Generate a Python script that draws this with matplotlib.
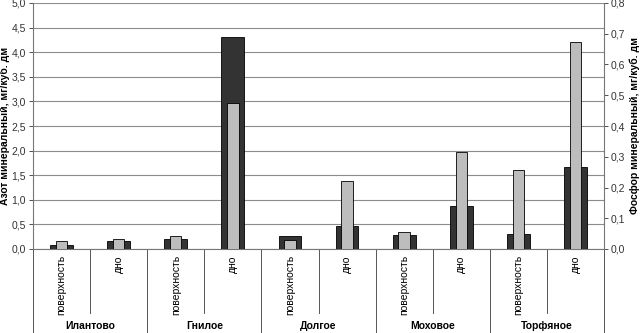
import matplotlib
matplotlib.use("Agg")
import matplotlib.pyplot as plt
import numpy as np

plt.rcParams['font.family'] = ['Liberation Sans', 'DejaVu Sans']

lakes = ['Илантово', 'Гнилое', 'Долгое', 'Моховое', 'Торфяное']
layers = ['поверхность', 'дно']
# азот (левая ось) и фосфор (правая ось), мг/куб. дм
nitrogen = [0.08, 0.16, 0.20, 4.30, 0.27, 0.46, 0.28, 0.87, 0.30, 1.66]
phosphorus = [0.025, 0.031, 0.041, 0.475, 0.028, 0.22, 0.054, 0.314, 0.258, 0.672]

fig = plt.figure(figsize=(6.41, 3.33), dpi=100)
ax = fig.add_axes([33 / 641, 84 / 333, 571 / 641, 246 / 333])
ax2 = ax.twinx()

x = np.arange(len(nitrogen)) + 0.5
ax.bar(x, nitrogen, width=0.4, color='#333333', edgecolor='black', linewidth=0.6, zorder=3)
ax2.bar(x, phosphorus, width=0.2, color='#bdbdbd', edgecolor='black', linewidth=0.6, zorder=3)

ax.set_xlim(0, 10)
ax.set_ylim(0, 5)
ax2.set_ylim(0, 0.8)
ax.set_yticks(np.arange(0, 5.01, 0.5))
ax2.set_yticks(np.arange(0, 0.801, 0.1))
fmt = lambda v, p: ('%.1f' % v).replace('.', ',')
ax.yaxis.set_major_formatter(plt.FuncFormatter(fmt))
ax2.yaxis.set_major_formatter(plt.FuncFormatter(fmt))
ax.grid(axis='y', color='#8c8c8c', linewidth=0.8, zorder=0)
ax.set_axisbelow(True)
ax.set_xticks([])
ax2.set_xticks([])

for a in (ax, ax2):
    a.tick_params(axis='y', labelsize=7.5, length=3, width=0.6, colors='#333333', pad=2)
    for s in a.spines.values():
        s.set_visible(False)
ax.spines['left'].set_visible(True)
ax.spines['left'].set_color('#777777')
ax2.spines['right'].set_visible(True)
ax2.spines['right'].set_color('#777777')
ax.spines['bottom'].set_visible(True)
ax.spines['bottom'].set_color('#777777')

ax.set_ylabel('Азот минеральный, мг/куб. дм', fontsize=7.5, fontweight='bold')
ax.yaxis.set_label_coords(-0.040, 0.5)
ax2.set_ylabel('Фосфор минеральный, мг/куб. дм', fontsize=7.5, fontweight='bold', rotation=90)
ax2.yaxis.set_label_coords(1.045, 0.5)

trans = ax.get_xaxis_transform()
for i, xi in enumerate(x):
    ax.text(xi, -0.025, layers[i % 2], rotation=90, ha='center', va='top',
            fontsize=7.5, transform=trans)
for i in range(len(nitrogen) + 1):
    if i % 2 == 0:
        ax.plot([i, i], [0, -0.35], color='#555555', linewidth=0.7, transform=trans, clip_on=False)
    else:
        ax.plot([i, i], [0, -0.26], color='#555555', linewidth=0.7, transform=trans, clip_on=False)
for j, lake in enumerate(lakes):
    ax.text(2 * j + 1, -0.313, lake, ha='center', va='center', fontsize=7.5,
            fontweight='bold', transform=trans)

fig.savefig('out.png', dpi=100)
